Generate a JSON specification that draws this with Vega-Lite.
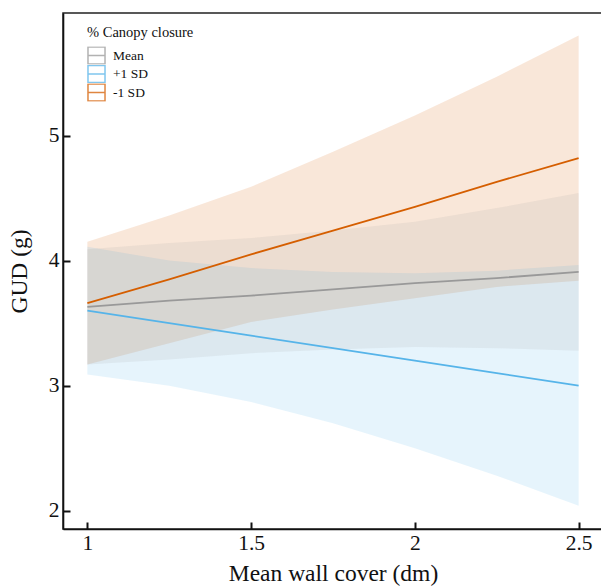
{
  "$schema": "https://vega.github.io/schema/vega-lite/v6.json",
  "width": 540,
  "height": 516,
  "autosize": "none",
  "padding": {"left": 63, "top": 13, "right": 0, "bottom": 57},
  "config": {
    "font": "Liberation Serif",
    "view": {"stroke": "#222222", "strokeWidth": 1.5},
    "axis": {
      "grid": false,
      "domainColor": "#111111",
      "domainWidth": 1.6,
      "tickColor": "#111111",
      "tickWidth": 2,
      "tickSize": -7,
      "labelColor": "#111111",
      "titleColor": "#111111",
      "labelFontSize": 21.5,
      "titleFontSize": 23.5,
      "titleFontWeight": "normal",
      "labelFont": "Liberation Serif",
      "titleFont": "Liberation Serif",
      "format": "~g"
    }
  },
  "data": {
    "values": [
      {"g": "Mean", "x": 1, "fit": 3.63, "lo": 3.17, "hi": 4.09},
      {"g": "Mean", "x": 1.25, "fit": 3.68, "lo": 3.21, "hi": 4.14},
      {"g": "Mean", "x": 1.5, "fit": 3.72, "lo": 3.26, "hi": 4.18},
      {"g": "Mean", "x": 1.75, "fit": 3.77, "lo": 3.29, "hi": 4.24},
      {"g": "Mean", "x": 2, "fit": 3.82, "lo": 3.31, "hi": 4.31},
      {"g": "Mean", "x": 2.25, "fit": 3.86, "lo": 3.3, "hi": 4.42},
      {"g": "Mean", "x": 2.5, "fit": 3.91, "lo": 3.28, "hi": 4.54},
      {"g": "+1 SD", "x": 1, "fit": 3.6, "lo": 3.09, "hi": 4.11},
      {"g": "+1 SD", "x": 1.25, "fit": 3.5, "lo": 3.0, "hi": 4.0},
      {"g": "+1 SD", "x": 1.5, "fit": 3.4, "lo": 2.87, "hi": 3.94},
      {"g": "+1 SD", "x": 1.75, "fit": 3.3, "lo": 2.7, "hi": 3.91},
      {"g": "+1 SD", "x": 2, "fit": 3.2, "lo": 2.5, "hi": 3.9},
      {"g": "+1 SD", "x": 2.25, "fit": 3.1, "lo": 2.28, "hi": 3.92},
      {"g": "+1 SD", "x": 2.5, "fit": 3.0, "lo": 2.04, "hi": 3.965},
      {"g": "-1 SD", "x": 1, "fit": 3.66, "lo": 3.17, "hi": 4.15},
      {"g": "-1 SD", "x": 1.25, "fit": 3.85, "lo": 3.34, "hi": 4.36},
      {"g": "-1 SD", "x": 1.5, "fit": 4.05, "lo": 3.51, "hi": 4.59},
      {"g": "-1 SD", "x": 1.75, "fit": 4.24, "lo": 3.61, "hi": 4.87},
      {"g": "-1 SD", "x": 2, "fit": 4.43, "lo": 3.7, "hi": 5.16},
      {"g": "-1 SD", "x": 2.25, "fit": 4.63, "lo": 3.79, "hi": 5.47},
      {"g": "-1 SD", "x": 2.5, "fit": 4.82, "lo": 3.84, "hi": 5.8}
    ]
  },
  "encoding": {
    "x": {
      "field": "x",
      "type": "quantitative",
      "scale": {"domain": [0.9256, 2.5744], "nice": false, "zero": false},
      "axis": {"values": [1, 1.5, 2, 2.5], "title": "Mean wall cover (dm)", "labelPadding": 10, "titlePadding": 8}
    },
    "y": {
      "type": "quantitative",
      "scale": {"domain": [1.854, 5.98], "nice": false, "zero": false},
      "axis": {"values": [2, 3, 4, 5], "title": "GUD (g)", "labelPadding": 11, "titlePadding": 17}
    }
  },
  "layer": [
    {
      "transform": [{"filter": "datum.g === '-1 SD'"}],
      "mark": {"type": "area", "opacity": 0.15, "color": "#D55E00"},
      "encoding": {"y": {"field": "lo"}, "y2": {"field": "hi"}}
    },
    {
      "transform": [{"filter": "datum.g === '+1 SD'"}],
      "mark": {"type": "area", "opacity": 0.15, "color": "#56B4E9"},
      "encoding": {"y": {"field": "lo"}, "y2": {"field": "hi"}}
    },
    {
      "transform": [{"filter": "datum.g === 'Mean'"}],
      "mark": {"type": "area", "opacity": 0.13, "color": "#999999"},
      "encoding": {"y": {"field": "lo"}, "y2": {"field": "hi"}}
    },
    {
      "mark": {"type": "line", "strokeWidth": 1.8},
      "encoding": {
        "y": {"field": "fit"},
        "color": {
          "field": "g",
          "type": "nominal",
          "scale": {"domain": ["Mean", "+1 SD", "-1 SD"], "range": ["#999999", "#56B4E9", "#D55E00"]},
          "legend": {
            "title": "% Canopy closure",
            "orient": "none",
            "legendX": 24,
            "legendY": 13,
            "titleFont": "Liberation Serif",
            "titleFontSize": 14.5,
            "titleFontWeight": "normal",
            "titleColor": "#111111",
            "titlePadding": 6,
            "labelFont": "Liberation Serif",
            "labelFontSize": 13.5,
            "labelColor": "#111111",
            "labelOffset": 7,
            "symbolType": "M-1,-1H1V1H-1Z M-1,0H1",
            "symbolSize": 290,
            "symbolStrokeWidth": 1.5,
            "symbolOpacity": 0.75,
            "clipHeight": 18,
            "rowPadding": 0.5
          }
        }
      }
    }
  ]
}
